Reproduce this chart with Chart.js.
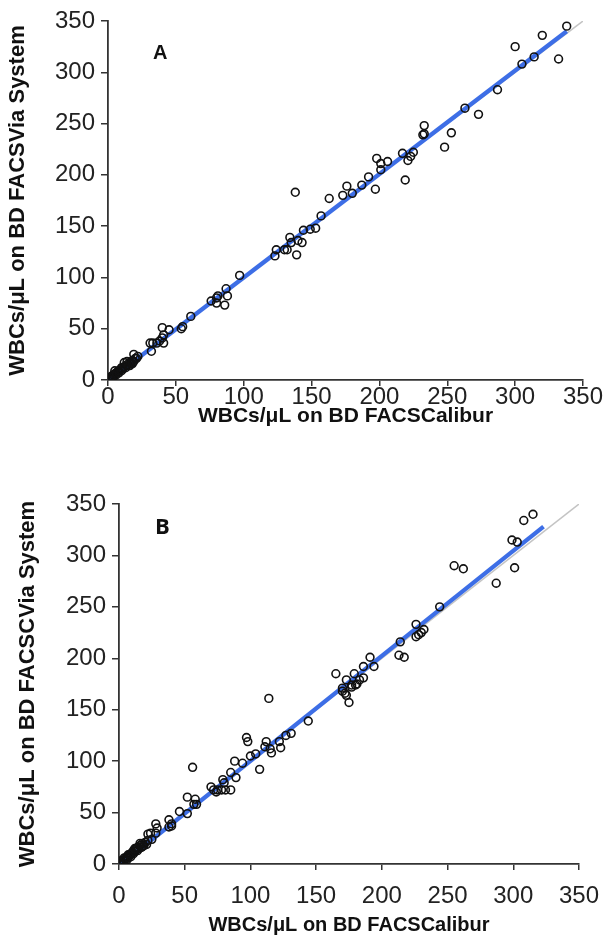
<!DOCTYPE html>
<html>
<head>
<meta charset="utf-8">
<script src="https://cdn.jsdelivr.net/npm/chart.js@4.4.1/dist/chart.umd.min.js"></script>
<style>
  html, body { margin: 0; padding: 0; background: #fff; }
  body { width: 615px; height: 941px; position: relative; overflow: hidden; font-family: "Liberation Sans", Arial, sans-serif; }
  .wrap { position: absolute; left: 0; width: 615px; }
  .panel { position: absolute; font-weight: bold; font-size: 20px; color: #111; }
</style>
</head>
<body>
<div class="wrap" style="top:0;height:440px"><canvas id="chartA" width="615" height="440"></canvas></div>
<div class="wrap" style="top:470px;height:471px"><canvas id="chartB" width="615" height="471"></canvas></div>
<div class="panel" style="left:153px;top:41px">A</div>
<div class="panel" style="left:155px;top:510px;font-size:22px;font-family:'Open Sans',sans-serif">B</div>
<script>
// axis ticks
const tickValues = [0, 50, 100, 150, 200, 250, 300, 350];
const xTitle = 'WBCs/μL on BD FACSCalibur';
const yTitleA = 'WBCs/μL on BD FACSVia System';
const yTitleB = 'WBCs/μL on BD FACSCVia System';

// panel A: [FACSCalibur, FACSVia]
const pointsA = [
  [338,345],[320,336],[300,325],[305,308],[314,315],[332,313],[287,283],[263,265],[273,259],
  [233,248],[233,240],[232,239],[253,241],[248,227],[217,221],[225,222],[221,214],[223,218],
  [219,195],[198,216],[206,213],[201,211],[201,205],[192,198],[187,190],[197,186],[176,189],
  [173,180],[180,182],[138,183],[163,177],
  [157,160],[153,148],[149,147],[144,146],[143,134],[140,136],[134,139],[135,134],[132,127],
  [130,127],[124,127],[123,121],[139,122],[97,102],[87,89],[88,82],[81,82],[80,80],[76,77],
  [80,75],[86,73],[61,62],[55,52],[54,50],[45,49],[40,51],[41,44],[40,41],[41,36],[36,36],
  [31,36],[33,36],[32,28],[38,38],[19,25],[21,21],
  [0,0],[1,1],[1,2],[2,1],[2,3],[3,2],[3,4],[4,3],[4,5],[5,6],[5,9],[6,5],[6,7],[7,8],[8,7],
  [8,9],[9,10],[10,9],[10,12],[11,11],[12,13],[12,17],[13,12],[14,15],[14,18],[15,14],[16,17],
  [17,16],[18,19],[19,18],[20,21],[22,23],[16,14],[18,16]
];
const fitA = [[0,-1],[338,340]];

// panel B
const pointsB = [
  [315,340],[308,334],[299,315],[303,313],[301,288],[287,273],[255,290],[262,287],[244,250],
  [226,233],[232,228],[230,225],[226,221],[228,223],[214,216],[213,203],[217,201],[191,201],
  [194,192],[186,192],[186,181],[179,185],[183,179],[173,179],[165,185],[170,171],[177,174],
  [180,174],[172,166],[170,168],[114,161],[173,164],[175,157],[177,172],[181,175],
  [144,139],[127,125],[131,127],[122,119],[123,113],[115,112],[116,108],[112,119],[111,114],
  [104,107],[100,105],[97,123],[98,119],[94,98],[88,100],[89,84],[107,92],[85,89],[79,82],
  [80,79],[78,72],[72,72],[75,72],[81,72],[85,72],[70,75],[74,70],[56,94],[52,65],[52,49],
  [58,63],[59,58],[57,58],[46,51],[38,43],[40,39],[38,36],[40,37],[28,39],[29,35],[24,30],
  [28,30],[22,29],[25,24],
  [0,0],[1,1],[1,3],[2,2],[3,1],[3,4],[4,3],[4,6],[5,5],[6,4],[6,7],[7,6],[7,9],[8,8],[9,7],
  [9,10],[10,11],[11,10],[11,13],[12,12],[13,15],[14,13],[14,16],[15,15],[16,18],[17,16],
  [18,20],[19,18],[20,21],[21,19],[22,23],[16,20],[12,15],[18,17]
];
const fitB = [[0,-2],[323,328]];

const identity = [[0,0],[350,350]];

const toXY = arr => arr.map(p => ({ x: p[0], y: p[1] }));

function makeChart(id, pts, fit, yTitle, cfg) {
  return new Chart(document.getElementById(id), {
    type: 'scatter',
    data: {
      datasets: [
        { data: toXY(pts), order: 0, pointRadius: 3.9, pointBorderWidth: 1.6,
          borderColor: '#111', backgroundColor: 'rgba(255,255,255,0)' },
        { data: toXY(fit), order: 1, showLine: true, pointRadius: 0,
          borderColor: '#3d6ee6', borderWidth: 4.3 },
        { data: toXY(identity), order: 2, showLine: true, pointRadius: 0,
          borderColor: '#c4c4c4', borderWidth: 1.5 }
      ]
    },
    options: {
      responsive: false,
      animation: false,
      events: [],
      layout: { padding: { left: 0, top: cfg.top, right: cfg.right, bottom: 0 } },
      plugins: { legend: { display: false }, tooltip: { enabled: false } },
      scales: {
        x: {
          type: 'linear', min: 0, max: 350,
          afterBuildTicks: s => { s.ticks = tickValues.map(v => ({ value: v })); },
          afterFit: s => { s.height = cfg.xHeight; },
          ticks: { font: { size: 24, family: 'Liberation Sans' }, color: '#222', padding: cfg.xPad, maxRotation: 0 },
          grid: { drawOnChartArea: false, tickLength: 6, color: '#333', lineWidth: 1.5 },
          border: { color: '#333', width: 1.8 },
          title: { display: true, text: xTitle, color: '#111',
            font: { size: cfg.xTitleSize, weight: 'bold', family: 'Liberation Sans' }, padding: { top: 0, bottom: cfg.xTitlePad } }
        },
        y: {
          type: 'linear', min: 0, max: 350,
          afterBuildTicks: s => { s.ticks = tickValues.map(v => ({ value: v })); },
          afterFit: s => { s.width = cfg.yWidth; },
          ticks: { font: { size: 24, family: 'Liberation Sans' }, color: '#222', padding: 6 },
          grid: { drawOnChartArea: false, tickLength: 7, color: '#333', lineWidth: 1.5 },
          border: { color: '#333', width: 1.8 },
          title: { display: true, text: yTitle, color: '#111',
            font: { size: 22, weight: 'bold', family: 'Liberation Sans' }, padding: { top: cfg.yTitlePad, bottom: 0 } }
        }
      }
    }
  });
}

makeChart('chartA', pointsA, fitA, yTitleA, { top: 21, right: 32, xHeight: 60, yWidth: 108, xPad: -3, xTitleSize: 21, xTitlePad: 11, yTitlePad: 5 });
makeChart('chartB', pointsB, fitB, yTitleB, { top: 34, right: 36, xHeight: 77, yWidth: 119, xPad: 12, xTitleSize: 20, xTitlePad: 4, yTitlePad: 15 });
</script>
</body>
</html>
